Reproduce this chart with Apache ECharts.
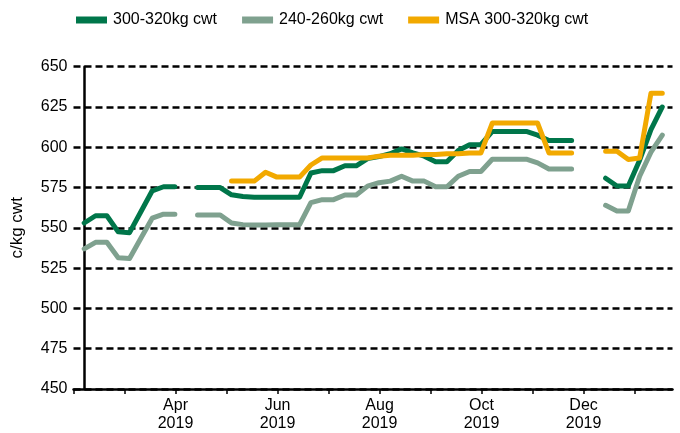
<!DOCTYPE html>
<html>
<head>
<meta charset="utf-8">
<script src="https://cdn.jsdelivr.net/npm/echarts@6/dist/echarts.min.js"></script>
<style>
  html, body { margin: 0; padding: 0; background: #fff; }
  #chart { width: 680px; height: 433px; }
</style>
</head>
<body>
<div id="chart"></div>
<script>
// Weekly prices (c/kg cwt), week 0 = early Feb 2019 ... week 51 = mid Jan 2020; null = no sale
const seriesNames = ['300-320kg cwt', '240-260kg cwt', 'MSA 300-320kg cwt'];

const steer300 = [553, 557.5, 557.5, 547.5, 547, 560, 573, 575.5, 575.5, null,
  575, 575, 575, 570.5, 569.5, 569, 569, 569, 569, 569,
  584, 585.5, 585.5, 588.5, 588.5, 593, 594.2, 596, 599, 596.5,
  594.5, 591, 591, 598, 601.6, 601.6, 609.8, 609.8, 609.8, 609.8,
  607.5, 604.2, 604.2, 604.2, null, null, 580.8, 576, 576, 592,
  611, 625];

const steer240 = [537, 541, 541, 531.5, 531, 543.5, 556, 558.5, 558.5, null,
  558, 558, 558, 553, 552, 551.7, 551.7, 552, 552, 552,
  565.7, 567.5, 567.5, 570.4, 570.4, 575.9, 578, 579, 582, 579,
  579, 575.5, 575.5, 582, 585, 585, 592.6, 592.6, 592.6, 592.6,
  590.3, 586.5, 586.5, 586.5, null, null, 564, 560.5, 560.5, 582,
  597, 607.5];

const msa300 = [null, null, null, null, null, null, null, null, null, null,
  null, null, null, 579, 579, 579, 584.5, 581.5, 581.5, 581.5,
  589, 593.4, 593.4, 593.4, 593.4, 593.4, 594.5, 595, 595, 595,
  595.5, 595.5, 596, 596, 596.5, 596.5, 615, 615, 615, 615,
  615, 596.5, 596.5, 596.5, null, null, 597.5, 597.5, 592.4, 593.4,
  633.6, 633.6];

// x-axis month ticks (Feb 2019 ... Jan 2020), labels every second month
const monthLabels = ['', '', 'Apr\n2019', '', 'Jun\n2019', '', 'Aug\n2019', '', 'Oct\n2019', '', 'Dec\n2019', ''];
const firstTick = -0.944;
const tickStep = 4.5;
const monthTicks = monthLabels.map((_, k) => firstTick + k * tickStep);

const yMin = 450, yMax = 650, yStep = 25;
const colors = ['#00764A', '#7FA18F', '#F2A900'];
const font = 'Liberation Sans, Arial, sans-serif';

const toPairs = arr => arr.map((v, i) => [i, v === null ? '-' : v]);

const chart = echarts.init(document.getElementById('chart'), null, { renderer: 'canvas' });
chart.setOption({
  animation: false,
  color: colors,
  textStyle: { fontFamily: font },
  grid: { left: 73.5, right: 7.5, top: 66.7, bottom: 42, containLabel: false },
  legend: {
    left: 76, top: 12, padding: 0,
    icon: 'rect', itemWidth: 31, itemHeight: 7, itemGap: 25,
    textStyle: { fontSize: 16, color: '#000', fontFamily: font, padding: [0, 0, 0, 1] },
    data: seriesNames
  },
  xAxis: {
    type: 'value',
    min: firstTick, max: 51.9,
    axisLine: { onZero: false, lineStyle: { color: '#000', width: 2.5 } },
    axisTick: { show: true, customValues: monthTicks, length: 5, lineStyle: { color: '#000', width: 1.5 } },
    axisLabel: {
      customValues: monthTicks,
      formatter: v => monthLabels[Math.round((v - firstTick) / tickStep)] || '',
      fontSize: 16, lineHeight: 18, margin: 8, color: '#000', fontFamily: font
    },
    splitLine: { show: false }
  },
  yAxis: {
    type: 'value', min: yMin, max: yMax, interval: yStep,
    name: 'c/kg cwt', nameLocation: 'middle', nameGap: 48,
    nameTextStyle: { fontSize: 17, color: '#000', fontFamily: font },
    axisLine: { show: true, lineStyle: { color: '#000', width: 2.5 } },
    axisTick: { show: false },
    axisLabel: { margin: 6, fontSize: 16, color: '#000', fontFamily: font },
    splitLine: { show: true, lineStyle: { color: '#000', width: 2.5, type: [7, 4] } }
  },
  series: [
    { name: seriesNames[0], data: toPairs(steer300) },
    { name: seriesNames[1], data: toPairs(steer240) },
    { name: seriesNames[2], data: toPairs(msa300) }
  ].map((s, k) => Object.assign(s, {
    type: 'line', showSymbol: false, symbol: 'none', connectNulls: false,
    lineStyle: { width: 5, color: colors[k], cap: 'round', join: 'round' },
    itemStyle: { color: colors[k] }
  }))
});
</script>
</body>
</html>
